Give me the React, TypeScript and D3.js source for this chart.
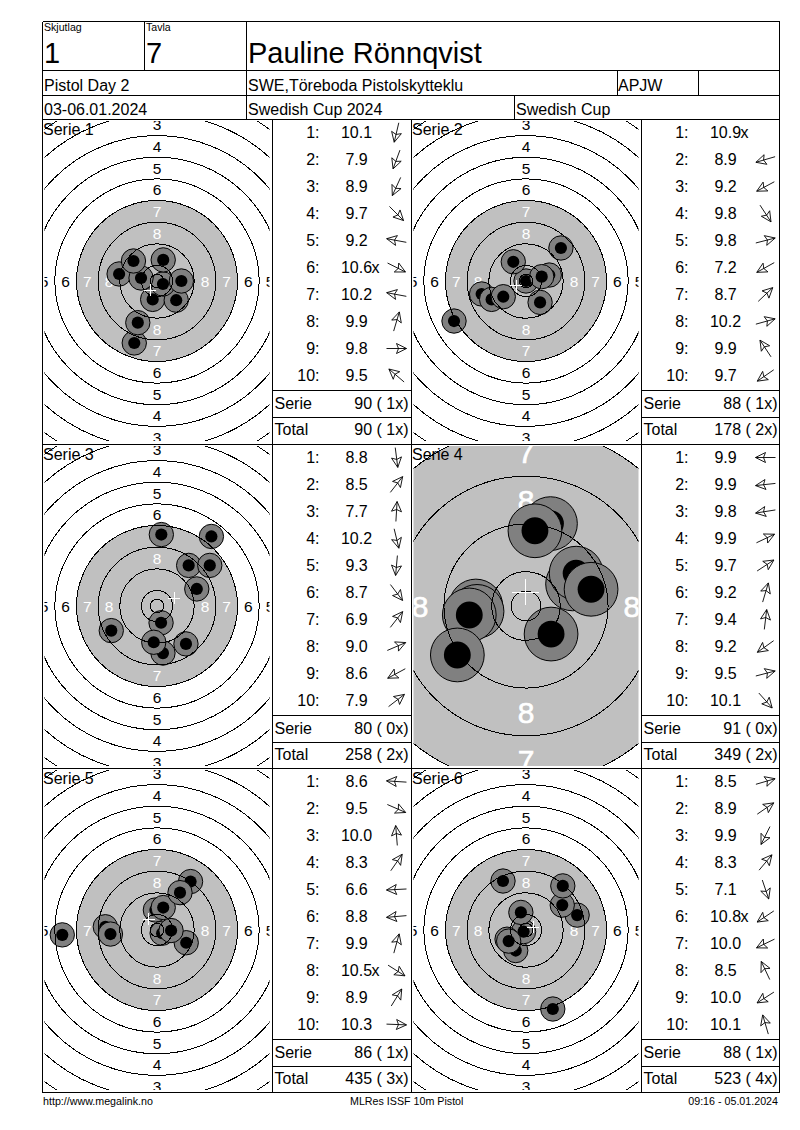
import * as d3 from "d3";

// score text per series, "x" marks an inner ten
const scores1 = ["10.1", "7.9", "8.9", "9.7", "9.2", "10.6x", "10.2", "9.9", "9.8", "9.5"];
const scores2 = ["10.9x", "8.9", "9.2", "9.8", "9.8", "7.2", "8.7", "10.2", "9.9", "9.7"];
const scores3 = ["8.8", "8.5", "7.7", "10.2", "9.3", "8.7", "6.9", "9.0", "8.6", "7.9"];
const scores4 = ["9.9", "9.9", "9.8", "9.9", "9.7", "9.2", "9.4", "9.2", "9.5", "10.1"];
const scores5 = ["8.6", "9.5", "10.0", "8.3", "6.6", "8.8", "9.9", "10.5x", "8.9", "10.3"];
const scores6 = ["8.5", "8.9", "9.9", "8.3", "7.1", "10.8x", "10.0", "8.5", "10.0", "10.1"];

// shot positions in mm from the target centre, y up
const shotX1 = [-1.6, -8.4, -7.1, 7.1, -14.0, 2.2, -5.9, 2.3, 9.0, -8.7];
const shotY1 = [-6.8, -22.9, -15.4, -7.1, 2.6, -1.1, 1.1, 7.8, 0, 7.4];
const shotX2 = [0, -16.4, -12.7, 5.2, 8.6, -26.6, 12.9, 5.8, -4.7, -8.4];
const shotY2 = [0, -4.8, -6.8, -7.9, 2.2, -14.8, 12.2, 1.6, 7.1, -5.8];
const shotX3 = [2.2, 11.7, 1.6, 1.5, -1.2, 10.7, 20.1, 14.7, -16.9, 19.5];
const shotY3 = [-17.4, 15.0, 26.4, -6.2, -13.4, -14.0, 25.7, 6.3, -9.1, 15.0];
const shotX4 = [-8.4, -8.2, -9.5, 7.8, 8.4, 4.1, 1.5, -11.5, 10.9, 4.2];
const shotY4 = [0, -0.9, -1.5, 3.7, 5.5, 13.8, 12.6, -8.2, 2.8, -4.7];
const shotX5 = [-19.1, 10.8, -0.6, 12.4, -35.0, -17.2, 2.3, 1.9, 8.5, 5.2];
const shotY5 = [1.2, -4.7, 7.4, 17.9, -1.8, -1.5, 8.3, -1.2, 13.8, -0.2];
const shotX6 = [18.9, 13.4, -3.8, 13.6, 9.9, -0.9, -7.0, -8.5, -6.4, -1.9];
const shotY6 = [5.5, 9.2, -7.6, 16.3, -29.2, -0.6, -3.4, 18.1, -4.1, 6.5];

const serieTotals = [90, 88, 80, 91, 86, 88];
const serieInner = [1, 1, 0, 0, 1, 1];
const runningTotals = [90, 178, 258, 349, 435, 523];
const runningInner = [1, 2, 2, 2, 3, 4];

// ISSF 10m pistol target, ring radius in mm
const ringValues = [10, 9, 8, 7, 6, 5, 4, 3, 2, 1];
const ringRadii = [5.75, 13.75, 21.75, 29.75, 37.75, 45.75, 53.75, 61.75, 69.75, 77.75];
const innerTenRadius = 2.5;
const labelValues = [8, 7, 6, 5, 4, 3];
const pelletRadius = 2.25;
const pelletOuter = 4.5;

const series = [
  { name: "Serie 1", scores: scores1, xs: shotX1, ys: shotY1, zoom: 2.706 },
  { name: "Serie 2", scores: scores2, xs: shotX2, ys: shotY2, zoom: 2.706 },
  { name: "Serie 3", scores: scores3, xs: shotX3, ys: shotY3, zoom: 2.706 },
  { name: "Serie 4", scores: scores4, xs: shotX4, ys: shotY4, zoom: 5.97 },
  { name: "Serie 5", scores: scores5, xs: shotX5, ys: shotY5, zoom: 2.706 },
  { name: "Serie 6", scores: scores6, xs: shotX6, ys: shotY6, zoom: 2.706 },
];

const font = "'Liberation Sans', Arial, sans-serif";
const left = [42.5, 411.5];
const tops = [119.5, 444.5, 768.5];
const GREY = "#c0c0c0";

const Arrow = ({ cx, cy, dx, dy }: any) => {
  const angle = Math.atan2(dx, dy);
  const ux = Math.sin(angle);
  const uy = -Math.cos(angle);
  const back = (b: number, s: number): [number, number] => [
    cx + ux * (10 - b) - uy * s,
    cy + uy * (10 - b) + ux * s,
  ];
  const p = d3.path();
  p.moveTo(cx - ux * 10, cy - uy * 10);
  p.lineTo(cx + ux * 10, cy + uy * 10);
  p.moveTo(...back(10, 5));
  p.lineTo(cx + ux * 10, cy + uy * 10);
  p.lineTo(...back(10, -5));
  p.lineTo(...back(8, 0));
  p.lineTo(...back(10, 5));
  return <path d={p.toString()} fill="none" stroke="#000" strokeWidth={0.9} />;
};

const Target = ({ s, idx, x0, y0 }: any) => {
  const cx = x0 + 114.5;
  const cy = y0 + 161.5;
  const sx = d3.scaleLinear().domain([0, 1]).range([cx, cx + s.zoom]);
  const sy = d3.scaleLinear().domain([0, 1]).range([cy, cy - s.zoom]);
  const r = d3.scaleLinear().domain([0, 1]).range([0, s.zoom]);
  const labelSize = s.zoom > 3 ? 30 : 15.5;
  const clipId = `clip-${idx}`;
  const seven = ringRadii[ringValues.indexOf(7)];
  const meanX = d3.mean(s.xs as number[])!;
  const meanY = d3.mean(s.ys as number[])!;
  const arm = r(2.2);
  return (
    <g>
      <clipPath id={clipId}>
        <rect x={cx - 112.5} y={cy - 160} width={225} height={320} />
      </clipPath>
      <g clipPath={`url(#${clipId})`}>
        <circle cx={cx} cy={cy} r={r(seven)} fill={GREY} />
        {labelValues.map((v) => {
          const i = ringValues.indexOf(v);
          const mid = r((ringRadii[i] + ringRadii[i - 1]) / 2);
          const fill = v >= 7 ? "#fff" : "#000";
          const spots = [
            [0, -mid],
            [0, mid],
            [-mid, 0],
            [mid, 0],
          ].filter(([ox, oy]) => Math.abs(ox) < 112.5 + labelSize / 3 && Math.abs(oy) < 160 + labelSize / 2);
          return spots.map(([ox, oy], k) => (
            <text
              key={`${v}-${k}`}
              x={cx + ox}
              y={cy + oy}
              dy="0.36em"
              textAnchor="middle"
              fontFamily={font}
              fontSize={labelSize}
              fill={fill}
              stroke={s.zoom > 3 ? fill : "none"}
              strokeWidth={0.6}
            >
              {v}
            </text>
          ));
        })}
        {s.xs.map((x: number, i: number) => (
          <g key={i}>
            <circle cx={sx(x)} cy={sy(s.ys[i])} r={r(pelletOuter)} fill="#808080" stroke="#000" strokeWidth={1} />
            <circle cx={sx(x)} cy={sy(s.ys[i])} r={r(pelletRadius)} fill="#000" />
          </g>
        ))}
        {ringRadii.map((rad) => (
          <circle key={rad} cx={cx} cy={cy} r={r(rad)} fill="none" stroke="#000" strokeWidth={1} shapeRendering="crispEdges" />
        ))}
        <circle cx={cx} cy={cy} r={r(innerTenRadius)} fill="none" stroke="#000" strokeWidth={1} shapeRendering="crispEdges" />
        <g stroke="#fff" strokeWidth={1} shapeRendering="crispEdges">
          <line x1={sx(meanX) - arm} x2={sx(meanX) + arm} y1={sy(meanY)} y2={sy(meanY)} />
          <line x1={sx(meanX)} x2={sx(meanX)} y1={sy(meanY) - arm} y2={sy(meanY) + arm} />
        </g>
      </g>
      <text x={x0 + 0.5} y={y0 + 15} fontFamily={font} fontSize={16} fill="#000">
        {s.name}
      </text>
    </g>
  );
};

const ScoreList = ({ s, idx, x0, y0 }: any) => {
  const lx = x0 + 230;
  const rowY = d3.scaleLinear().domain([0, 9]).range([y0 + 12.5, y0 + 255.5]);
  const common = { fontFamily: font, fontSize: 16, fill: "#000" };
  return (
    <g>
      {s.scores.map((score: string, i: number) => {
        const inner = score.endsWith("x");
        const value = score.replace("x", "");
        const y = rowY(i);
        const bullseye = s.xs[i] === 0 && s.ys[i] === 0;
        return (
          <g key={i}>
            <text {...common} x={lx + 47} y={y + 5.5} textAnchor="end">{`${i + 1}:`}</text>
            <text {...common} x={lx + 84} y={y + 5.5} textAnchor="middle">{value}</text>
            {inner && <text {...common} x={lx + 99} y={y + 5.5}>x</text>}
            {!bullseye && <Arrow cx={lx + 124} cy={y + 0.5} dx={s.xs[i]} dy={s.ys[i]} />}
          </g>
        );
      })}
      <text {...common} x={lx + 2} y={y0 + 289}>Serie</text>
      <text {...common} x={lx + 136} y={y0 + 289} textAnchor="end">
        {`${serieTotals[idx]} ( ${serieInner[idx]}x)`}
      </text>
      <text {...common} x={lx + 2} y={y0 + 315.5}>Total</text>
      <text {...common} x={lx + 136} y={y0 + 315.5} textAnchor="end">
        {`${runningTotals[idx]} ( ${runningInner[idx]}x)`}
      </text>
    </g>
  );
};

export default function App() {
  const hLines: [number, number, number][] = [
    [42.5, 779.5, 21.5],
    [42.5, 779.5, 70.5],
    [42.5, 779.5, 95.5],
    [42.5, 779.5, 119.5],
    [42.5, 779.5, 444.5],
    [42.5, 779.5, 768.5],
    [42.5, 779.5, 1092.5],
  ];
  const vLines: [number, number, number][] = [
    [42.5, 21.5, 1092.5],
    [779.5, 21.5, 1092.5],
    [144.5, 21.5, 70.5],
    [246.5, 21.5, 119.5],
    [617.5, 70.5, 95.5],
    [698.5, 70.5, 95.5],
    [514.5, 95.5, 119.5],
    [272.5, 119.5, 1092.5],
    [411.5, 119.5, 1092.5],
    [641.5, 119.5, 1092.5],
  ];
  const head = { fontFamily: font, fill: "#000" };
  return (
    <svg
      width={800}
      height={1130}
      style={{ position: "absolute", left: 0, top: 0, background: "#fff" }}
    >
      {series.map((s, i) => {
        const x0 = left[i % 2];
        const y0 = tops[Math.floor(i / 2)];
        return (
          <g key={s.name}>
            <Target s={s} idx={i} x0={x0} y0={y0} />
            <ScoreList s={s} idx={i} x0={x0} y0={y0} />
          </g>
        );
      })}

      <g stroke="#000" strokeWidth={1} shapeRendering="crispEdges">
        {hLines.map(([a, b, y]) => (
          <line key={`h${y}`} x1={a} x2={b} y1={y} y2={y} />
        ))}
        {vLines.map(([x, a, b]) => (
          <line key={`v${x}`} x1={x} x2={x} y1={a} y2={b} />
        ))}
        {series.map((_, i) => {
          const lx = left[i % 2] + 230;
          const y0 = tops[Math.floor(i / 2)];
          return (
            <g key={i}>
              <line x1={lx} x2={lx + 138} y1={y0 + 271} y2={y0 + 271} />
              <line x1={lx} x2={lx + 138} y1={y0 + 298} y2={y0 + 298} />
            </g>
          );
        })}
      </g>

      <text {...head} x={44} y={31} fontSize={10.6}>Skjutlag</text>
      <text {...head} x={146} y={31} fontSize={10.6}>Tavla</text>
      <text {...head} x={44} y={63} fontSize={29}>1</text>
      <text {...head} x={146} y={63} fontSize={29}>7</text>
      <text {...head} x={248} y={63} fontSize={29}>Pauline Rönnqvist</text>
      <text {...head} x={44} y={91} fontSize={16}>Pistol Day 2</text>
      <text {...head} x={248} y={91} fontSize={16}>SWE,Töreboda Pistolskytteklu</text>
      <text {...head} x={618} y={91} fontSize={16}>APJW</text>
      <text {...head} x={44} y={115} fontSize={16}>03-06.01.2024</text>
      <text {...head} x={248} y={115} fontSize={16}>Swedish Cup 2024</text>
      <text {...head} x={516} y={115} fontSize={16}>Swedish Cup</text>

      <text {...head} x={43} y={1105} fontSize={10.7}>http://www.megalink.no</text>
      <text {...head} x={350} y={1105} fontSize={10.7}>MLRes ISSF 10m Pistol</text>
      <text {...head} x={778} y={1105} fontSize={10.7} textAnchor="end">09:16 - 05.01.2024</text>
    </svg>
  );
}
